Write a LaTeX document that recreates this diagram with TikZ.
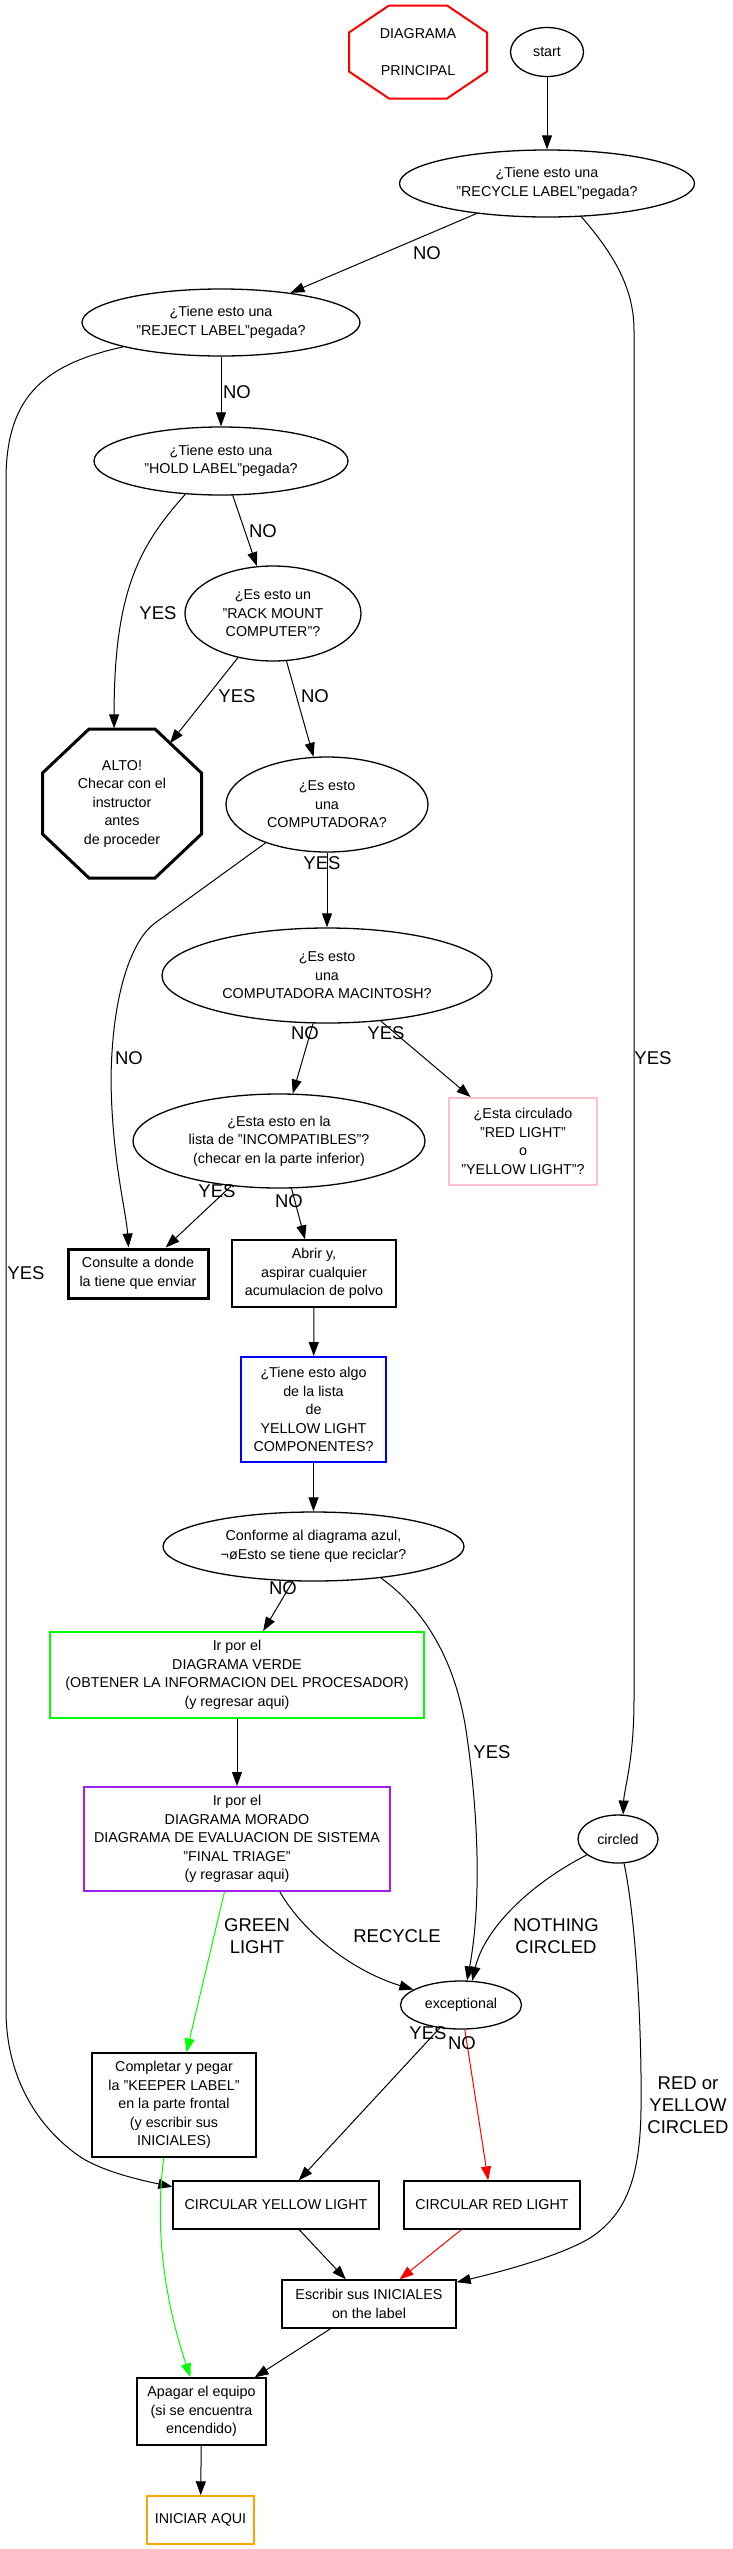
\documentclass[tikz,border=0pt]{standalone}
\usepackage{fontspec}
\setmainfont{Liberation Sans}
\usetikzlibrary{shapes.geometric,arrows.meta,calc}
\definecolor{gvred}{RGB}{255,0,0}
\definecolor{gvgreen}{RGB}{0,255,0}
\definecolor{gvblue}{RGB}{0,0,255}
\definecolor{gvpurple}{RGB}{160,32,240}
\definecolor{gvpink}{RGB}{255,192,203}
\definecolor{gvorange}{RGB}{255,165,0}
\begin{document}
\begin{tikzpicture}[x=1pt,y=-1pt,
  base/.style={draw, inner sep=0pt, align=center, font={\fontsize{14.3}{18.5}\selectfont}, line width=1.3pt},
  ell/.style={base, ellipse},
  box/.style={base, rectangle},
  octtext/.style={base, draw=none, rectangle},
  arr/.style={-{Triangle[length=14pt,width=10pt]}, line width=1pt},
  lbl/.style={inner sep=0pt, align=center, font={\fontsize{18.5}{22}\selectfont}},
]
\fill[white] (0,0) rectangle (732,2549);
\useasboundingbox (0,0) rectangle (732,2549);

% nodes
\node[octtext, minimum width=138pt, minimum height=93pt] (principal) at (418,52) {DIAGRAMA\\[18.5pt]PRINCIPAL};
\draw[gvred, line width=2pt, shift={(principal.center)}]
  (-29,-46.5) -- (29,-46.5) -- (69,-19.5) -- (69,19.5) -- (29,46.5) -- (-29,46.5) -- (-69,19.5) -- (-69,-19.5) -- cycle;
\node[ell, minimum width=73pt, minimum height=49pt] (start) at (547,52) {start};
\node[ell, minimum width=295pt, minimum height=67pt] (recycle) at (547,183.5) {¿Tiene esto una\\"RECYCLE LABEL"pegada?};
\node[ell, minimum width=278pt, minimum height=67pt] (reject) at (221,322.5) {¿Tiene esto una\\"REJECT LABEL"pegada?};
\node[ell, minimum width=254pt, minimum height=68pt] (hold) at (221,461) {¿Tiene esto una\\"HOLD LABEL"pegada?};
\node[ell, minimum width=176pt, minimum height=95pt] (rack) at (273,613.5) {¿Es esto un\\"RACK MOUNT\\COMPUTER"?};
\node[octtext, minimum width=159pt, minimum height=149pt] (alto) at (122,803.5) {ALTO!\\Checar con el\\instructor\\antes\\de proceder};
\draw[line width=3pt, shift={(alto.center)}]
  (-33,-74.5) -- (33,-74.5) -- (79.5,-30.5) -- (79.5,30.5) -- (33,74.5) -- (-33,74.5) -- (-79.5,30.5) -- (-79.5,-30.5) -- cycle;
\coordinate (altoNE) at ($(alto.center)+(48,-60.3)$);
\node[ell, minimum width=202pt, minimum height=95pt] (comp) at (327,804.5) {¿Es esto\\una\\COMPUTADORA?};
\node[ell, minimum width=330pt, minimum height=95pt] (mac) at (327,975.5) {¿Es esto\\una\\COMPUTADORA MACINTOSH?};
\node[ell, minimum width=292pt, minimum height=94pt] (incompat) at (279,1141) {¿Esta esto en la\\lista de "INCOMPATIBLES"?\\(checar en la parte inferior)};
\node[box, draw=gvpink, line width=2pt, minimum width=148pt, minimum height=87pt] (circulado) at (523,1141.5) {¿Esta circulado\\"RED LIGHT"\\o\\"YELLOW LIGHT"?};
\node[box, line width=3pt, minimum width=140pt, minimum height=49pt] (consulte) at (138,1273.5) {Consulte a donde\\la tiene que enviar};
\node[box, minimum width=164pt, minimum height=67pt] (abrir) at (314,1273.5) {Abrir y,\\aspirar cualquier\\acumulacion de polvo};
\node[box, draw=gvblue, line width=2pt, minimum width=145pt, minimum height=105pt] (tiene) at (313.5,1409.5) {¿Tiene esto algo\\de la lista\\de\\YELLOW LIGHT\\COMPONENTES?};
\node[ell, minimum width=301pt, minimum height=69pt] (conforme) at (313.5,1546.5) {Conforme al diagrama azul,\\¬øEsto se tiene que reciclar?};
\node[box, draw=gvgreen, line width=2pt, minimum width=374pt, minimum height=86pt] (verde) at (237,1675) {Ir por el\\DIAGRAMA VERDE\\(OBTENER LA INFORMACION DEL PROCESADOR)\\(y regresar aqui)};
\node[box, draw=gvpurple, line width=2pt, minimum width=306pt, minimum height=104pt] (morado) at (237,1839) {Ir por el\\DIAGRAMA MORADO\\DIAGRAMA DE EVALUACION DE SISTEMA\\"FINAL TRIAGE"\\(y regrasar aqui)};
\node[ell, minimum width=80pt, minimum height=48pt] (circled) at (618,1839) {circled};
\node[ell, minimum width=121pt, minimum height=48pt] (exc) at (461,2005) {exceptional};
\node[box, minimum width=164pt, minimum height=104pt] (keeper) at (174,2105) {Completar y pegar\\la "KEEPER LABEL"\\en la parte frontal\\(y escribir sus\\INICIALES)};
\node[box, minimum width=206pt, minimum height=48pt] (yellow) at (276,2205) {CIRCULAR YELLOW LIGHT};
\node[box, minimum width=176pt, minimum height=48pt] (redbox) at (492,2205) {CIRCULAR RED LIGHT};
\node[box, minimum width=174pt, minimum height=48pt] (escribir) at (369,2304) {Escribir sus INICIALES\\on the label};
\node[box, minimum width=129pt, minimum height=67pt] (apagar) at (201.5,2411.5) {Apagar el equipo\\(si se encuentra\\encendido)};
\node[box, draw=gvorange, line width=1.5pt, minimum width=107pt, minimum height=48pt] (iniciar) at (200.5,2520) {INICIAR AQUI};

% edges
\draw[arr] (start) -- (recycle);
\draw[arr] (recycle) -- (reject) node[lbl] at (427,253) {NO};
\draw[arr] (recycle.-44) .. controls (610,250) and (634,285) .. (634,330) -- (634,1700) .. controls (634,1760) and (624,1790) .. (circled.78) node[lbl] at (653,1058) {YES};
\draw[arr] (reject) -- (hold) node[lbl] at (237,392) {NO};
\draw[arr] (reject.194) .. controls (40,365) and (6,400) .. (6,480) -- (6,2010) .. controls (6,2080) and (40,2130) .. (82,2158) .. controls (105,2172) and (140,2180) .. (yellow.170) node[lbl] at (26,1273) {YES};
\draw[arr] (hold) -- (rack) node[lbl] at (263,531) {NO};
\draw[arr] (hold.223) .. controls (140,545) and (114,590) .. (alto.96) node[lbl] at (158,613) {YES};
\draw[arr] (rack) -- (altoNE) node[lbl] at (237,696) {YES};
\draw[arr] (rack) -- (comp) node[lbl] at (315,696) {NO};
\draw[arr] (comp.212) -- (155,923) .. controls (133,939) and (112,990) .. (111,1080) .. controls (112,1160) and (126,1210) .. (consulte.110) node[lbl] at (129,1058) {NO};
\draw[arr] (comp) -- (mac) node[lbl] at (322,863) {YES};
\draw[arr] (mac) -- (incompat) node[lbl] at (305,1033) {NO};
\draw[arr] (mac) -- (circulado) node[lbl] at (386,1033) {YES};
\draw[arr] (incompat) -- (consulte) node[lbl] at (217,1191) {YES};
\draw[arr] (incompat) -- (abrir) node[lbl] at (289,1201) {NO};
\draw[arr] (abrir) -- (tiene);
\draw[arr] (tiene) -- (conforme);
\draw[arr] (conforme) -- (verde) node[lbl] at (283,1588) {NO};
\draw[arr] (conforme.-25) .. controls (425,1610) and (455,1660) .. (466,1730) .. controls (478,1810) and (482,1900) .. (exc.76) node[lbl] at (492,1752) {YES};
\draw[arr] (verde) -- (morado);
\draw[arr, gvgreen] (morado) -- (keeper) node[lbl, black] at (257,1936) {GREEN\\LIGHT};
\draw[arr] (morado.-51) .. controls (305,1935) and (355,1972) .. (exc.162) node[lbl] at (397,1936) {RECYCLE};
\draw[arr] (circled.207) .. controls (528,1885) and (484,1930) .. (exc.65) node[lbl] at (556,1936) {NOTHING\\CIRCLED};
\draw[arr] (circled.-76) .. controls (636,1920) and (642,2030) .. (641,2110) .. controls (640,2180) and (625,2215) .. (590,2238) .. controls (560,2256) and (500,2272) .. (escribir.14) node[lbl] at (688,2105) {RED or\\YELLOW\\CIRCLED};
\draw[arr] (exc) -- (yellow) node[lbl] at (428,2033) {YES};
\draw[arr, gvred] (exc) -- (redbox) node[lbl, black] at (462,2043) {NO};
\draw[arr] (yellow) -- (escribir);
\draw[arr, gvred] (redbox) -- (escribir);
\draw[arr, gvgreen] (keeper.259) .. controls (157,2210) and (158,2280) .. (apagar.108);
\draw[arr] (escribir) -- (apagar);
\draw[arr] (apagar) -- (iniciar);
\end{tikzpicture}
\end{document}
